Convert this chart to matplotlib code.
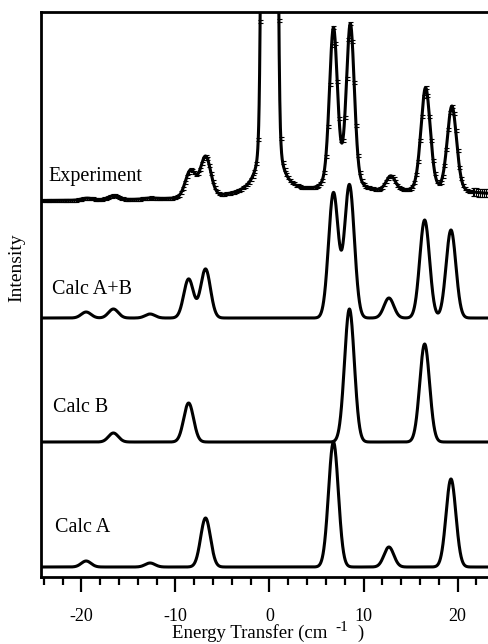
import numpy as np
import matplotlib
matplotlib.use("Agg")
import matplotlib.pyplot as plt
from matplotlib.ticker import MultipleLocator, FuncFormatter

plt.rcParams['font.family'] = ['Liberation Serif', 'DejaVu Serif']
plt.rcParams['mathtext.fontset'] = 'stix'

# ---------------- data ----------------
# Calculated spectra: peak positions (cm^-1) and intensities (arb.)
calc_a_pos = [-19.5, -12.7, -6.8, 6.8, 12.7, 19.3]
calc_a_int = [6, 4, 49, 125, 20, 88]
calc_b_pos = [-16.6, -8.6, 8.5, 16.5]
calc_b_int = [9, 39, 133, 98]
calc_sigma = 0.52

# Experiment: inelastic peaks (gaussian core + lorentzian wing heights)
exp_pos = [-19.4, -16.6, -12.7, -8.4, -6.8, 6.8, 8.6, 12.9, 16.6, 19.4]
exp_gauss = [2, 4, 1, 26, 39, 121, 125, 12, 84, 68]
exp_lor = [0, 0, 0, 1, 1, 40, 40, 3, 20, 18]
exp_sigma = [0.6, 0.6, 0.6, 0.55, 0.55, 0.42, 0.42, 0.5, 0.5, 0.5]
exp_gamma = 0.6
# elastic line at 0 (clipped) and its wings
elastic_pos = 0.0
elastic_gauss = 12000
elastic_sigma = 0.33
elastic_lor = 200
elastic_gamma = 0.6
# sloping background: level and broad hump
exp_bg_level = 376
exp_bg_hump = 8
exp_bg_center = 15
exp_bg_width = 15
exp_err = 1.5
exp_err_end = 4.0

# vertical offsets of the stacked traces
offsets = {"Calc A": 10, "Calc B": 135, "Calc A+B": 259}
labels = ["Experiment", "Calc A+B", "Calc B", "Calc A"]
label_x = [-23.5, -23.1, -23.0, -22.8]
label_y = [400, 288, 169, 49]
xticks = [-20, -10, 0, 10, 20]

xmin, xmax = -24.3, 23.45

# ---------------- build curves ----------------
x = np.linspace(xmin, xmax, 3000)

def gauss(xx, p, h, s):
    return h * np.exp(-(xx - p) ** 2 / (2 * s ** 2))

def lor(xx, p, h, g):
    return h * g ** 2 / ((xx - p) ** 2 + g ** 2)

calc_a = sum(gauss(x, p, h, calc_sigma) for p, h in zip(calc_a_pos, calc_a_int))
calc_b = sum(gauss(x, p, h, calc_sigma) for p, h in zip(calc_b_pos, calc_b_int))
calc_ab = calc_a + calc_b

def experiment(xx):
    y = exp_bg_level + gauss(xx, exp_bg_center, exp_bg_hump, exp_bg_width)
    y = y + gauss(xx, elastic_pos, elastic_gauss, elastic_sigma) + lor(xx, elastic_pos, elastic_lor, elastic_gamma)
    for p, hg, hl, s in zip(exp_pos, exp_gauss, exp_lor, exp_sigma):
        y = y + gauss(xx, p, hg, s) + lor(xx, p, hl, exp_gamma)
    return y

# ---------------- figure ----------------
W, H = 489, 644
fig = plt.figure(figsize=(W / 100, H / 100), dpi=100)
ax = fig.add_axes([41 / W, 1 - 577 / H, (490 - 41) / W, (577 - 12) / H])

lw = 2.2
ax.plot(x, calc_a + offsets["Calc A"], color='black', lw=lw)
ax.plot(x, calc_b + offsets["Calc B"], color='black', lw=lw)
ax.plot(x, calc_ab + offsets["Calc A+B"], color='black', lw=lw)

ye = experiment(x)
ax.plot(x, ye, color='black', lw=lw)
xs = np.arange(-24.2, 23.4, 0.2)
ys = experiment(xs)
err = np.where(xs > 21.5, exp_err_end, exp_err)
ax.errorbar(xs, ys, yerr=err, fmt='none', ecolor='black', elinewidth=0.8,
            capsize=1.8, capthick=0.8)

for lab, lx, ly in zip(labels, label_x, label_y):
    ax.text(lx, ly, lab, fontsize=14.5, va='center', ha='left')

ax.set_xlim(xmin, xmax)
ax.set_ylim(0, 565)
ax.set_yticks([])
ax.spines['right'].set_visible(False)
for s in ['left', 'top', 'bottom']:
    ax.spines[s].set_linewidth(2)
ax.set_xticks(xticks)
ax.xaxis.set_minor_locator(MultipleLocator(2))
ax.xaxis.set_major_formatter(FuncFormatter(lambda v, p: f"{int(round(v))}"))
ax.tick_params(axis='x', which='major', direction='out', length=11, width=1.6,
               labelsize=13, pad=11)
ax.tick_params(axis='x', which='minor', direction='out', length=5.5, width=1.6)

# x label with raised superscript, placed in pixel coordinates
renderer = fig.canvas.get_renderer()
t1 = fig.text(172 / W, 1 - 638 / H, "Energy Transfer (cm", fontsize=13.5,
              ha='left', va='baseline')
bb = t1.get_window_extent(renderer)
t2 = fig.text((bb.x1 + 8) / W, 1 - 631 / H, "-1", fontsize=11,
              ha='left', va='baseline')
bb2 = t2.get_window_extent(renderer)
fig.text((bb2.x1 + 9) / W, 1 - 638 / H, ")", fontsize=13.5,
         ha='left', va='baseline')

fig.text(17 / W, 1 - 268 / H, "Intensity", rotation=90, fontsize=14,
         ha='center', va='center')

fig.savefig("out.png", dpi=100)
